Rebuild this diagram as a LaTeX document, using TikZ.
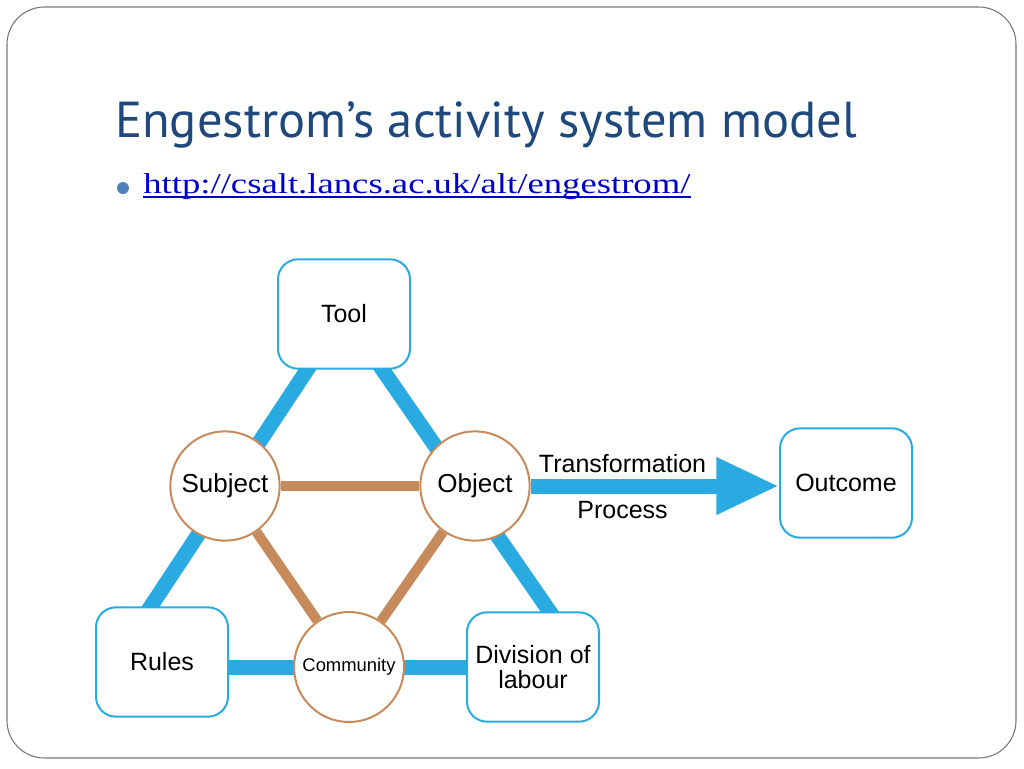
\documentclass[tikz,border=0pt]{standalone}
\usepackage{fontspec}
\setmainfont{Liberation Sans}
\newfontfamily\titlefont{PT Sans}
\newfontfamily\urlfont[FakeStretch=1.28]{Liberation Serif}
\usetikzlibrary{arrows.meta,calc,backgrounds}
\definecolor{tribluei}{RGB}{41,171,226}
\definecolor{brownii}{RGB}{198,138,91}
\definecolor{titleblue}{RGB}{31,73,125}
\definecolor{bulletblue}{RGB}{79,129,189}
\definecolor{linkblue}{RGB}{0,0,204}
\definecolor{framegray}{RGB}{120,120,120}
\tikzset{
          corner/.style={
            rectangle,rounded corners=15pt,
            draw=tribluei,line width=1.5pt,fill=white,
            minimum width=99pt,minimum height=82pt,
            align=center,
            font=\fontsize{18.75}{18.75}\selectfont
          },
          role/.style={circle,draw=brownii,line width=1.5pt,fill=white,
            minimum size=82pt,inner sep=0pt,
            font=\fontsize{19.5}{22}\selectfont},
          bluelink/.style={draw=tribluei,line width=11.25pt},
          brownlink/.style={draw=brownii,line width=7.5pt},
          texto/.style={font=\fontsize{18.75}{22}\selectfont}
        }

\begin{document}
\begin{tikzpicture}[x=0.75pt,y=-0.75pt]
  \useasboundingbox (0,0) rectangle (1024,768);

  % heading
  \node[anchor=base west,inner sep=0pt,text=titleblue,
        font=\titlefont\fontsize{37.9}{40}\selectfont] (title) at (115,137)
        {Engestrom’s activity system model};
  \node[circle,fill=bulletblue,minimum size=9pt,inner sep=0pt] (bullet) at (123,188) {};
  \node[anchor=base west,inner sep=0pt,text=linkblue,
        font=\urlfont\fontsize{21.5}{24}\selectfont] (url) at (143,193)
        {http://csalt.lancs.ac.uk/alt/engestrom/};
  \draw[linkblue,line width=0.9pt] ([yshift=-3pt]url.base west) -- ([yshift=-3pt]url.base east);

  % the six corners
  \node[corner] (tool) at (344,314) {Tool};
  \node[corner] (rules) at (162,662) {Rules};
  \node[corner] (division) at (533,667) {Division of\\labour};
  \node[corner] (outcome) at (846,483) {Outcome};
  \node[role] (subject) at (225,486) {Subject};
  \node[role] (object) at (475,486) {Object};
  \node[role,minimum size=82.5pt,font=\fontsize{13.8}{16}\selectfont] (community) at (349,667) {Community};

  \begin{scope}[on background layer]
    \fill[white] (0,0) rectangle (1024,768);
    \draw[framegray,line width=0.8pt,rounded corners=28pt] (7,7) rectangle (1016,758);
    \draw[bluelink] (tool.center) -- ($(rules.center)+(-48,0)$);
    \draw[bluelink] (tool.center) -- ($(division.center)+(55,0)$);
    \draw[bluelink] (rules.center |- community.center) -- (division.center |- community.center);
    \draw[brownlink] (subject) -- (object);
    \draw[brownlink] (subject) -- (community) -- (object);
  \end{scope}

  \draw[bluelink,-{Triangle[length=47pt,width=40pt]}] (object.east) -- (object.east -| outcome.west)
    node[texto,pos=.37,yshift=17pt] (transf) {Transformation}
    node[texto,pos=.37,yshift=-18pt] (process) {Process};
\end{tikzpicture}
\end{document}
